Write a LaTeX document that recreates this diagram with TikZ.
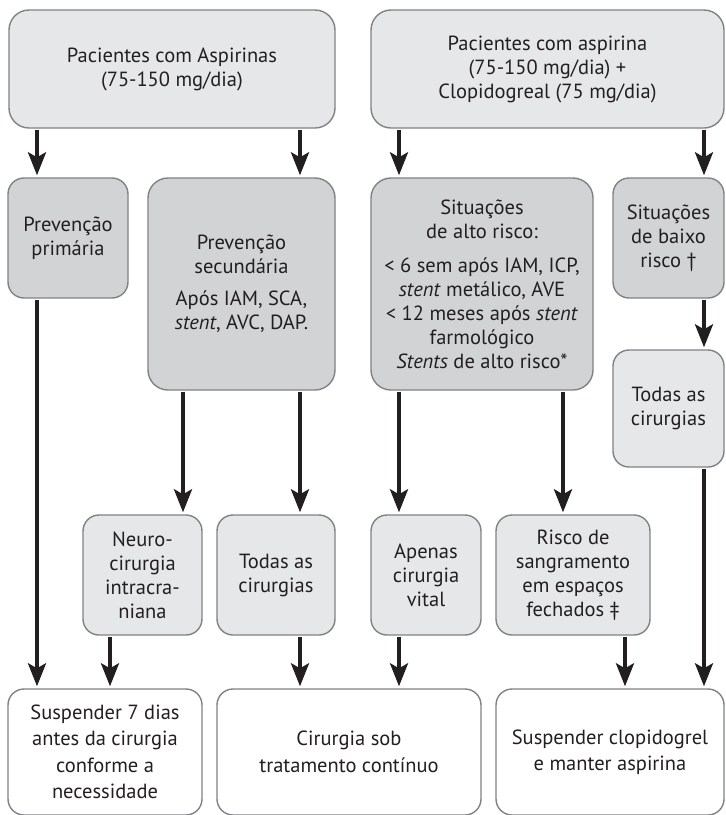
\documentclass[tikz,border=0pt]{standalone}
\usepackage{fontspec}
\setmainfont{PT Sans}
\usetikzlibrary{arrows.meta}
\definecolor{bordergray}{HTML}{808285}
\definecolor{lightg}{HTML}{E6E7E8}
\definecolor{darkg}{HTML}{D1D3D4}
\definecolor{arrowcol}{HTML}{231F20}
\definecolor{textcol}{HTML}{231F20}
\begin{document}
\begin{tikzpicture}[x=1pt,y=-1pt,
  box/.style={draw=bordergray, line width=1.4pt, rounded corners=16pt, align=center, inner sep=0pt,
    font=\fontsize{20.5}{24}\selectfont, text=textcol},
  lite/.style={box, fill=lightg},
  dark/.style={box, fill=darkg},
  plain/.style={box, fill=white, font=\fontsize{20.5}{26.5}\selectfont},
  arr/.style={line width=3.8pt, draw=arrowcol, shorten >=2pt, shorten <=1pt,
    -{Stealth[length=23pt,width=18pt,inset=5pt]}},
]
\useasboundingbox (0,0) rectangle (726,815);
\fill[white] (0,0) rectangle (726,815);

\node[lite, rounded corners=20pt, minimum width=326pt, minimum height=118pt] (top1) at (172,69)
  {Pacientes com Aspirinas\\(75-150 mg/dia)};
\node[lite, rounded corners=20pt, minimum width=353pt, minimum height=118pt] (top2) at (547.5,69)
  {Pacientes com aspirina\\(75-150 mg/dia) +\\Clopidogreal (75 mg/dia)};

\node[dark, minimum width=120pt, minimum height=120pt] (prim) at (68,238)
  {Prevenção\\primária};
\node[dark, rounded corners=20pt, minimum width=187pt, minimum height=212pt] (sec) at (241.5,284)
  {Prevenção\\secundária\\[8pt]Após IAM, SCA,\\\textit{stent}, AVC, DAP.};
\node[dark, rounded corners=20pt, minimum width=222pt, minimum height=212pt] (alto) at (482,284)
  {Situações\\de alto risco:\\[10pt]< 6 sem após IAM, ICP,\\\textit{stent} metálico, AVE\\< 12 meses após \textit{stent}\\farmológico\\\textit{Stents} de alto risco*};
\node[dark, minimum width=111pt, minimum height=120pt] (baixo) at (668.5,238)
  {Situações\\de baixo\\risco †};
\node[lite, minimum width=111pt, minimum height=117pt] (todasR) at (668.5,408.5)
  {Todas as\\cirurgias};

\node[lite, minimum width=119pt, minimum height=120pt] (neuro) at (142.5,575)
  {Neuro-\\cirurgia\\intracra-\\niana};
\node[lite, minimum width=118pt, minimum height=120pt] (todasM) at (276,575)
  {Todas as\\cirurgias};
\node[lite, minimum width=110pt, minimum height=120pt] (vital) at (426,575)
  {Apenas\\cirurgia\\vital};
\node[lite, minimum width=154pt, minimum height=120pt] (risco) at (573,575)
  {Risco de\\sangramento\\em espaços\\fechados ‡};

\node[plain, minimum width=194pt, minimum height=126pt] (susp) at (105,752)
  {Suspender 7 dias\\antes da cirurgia\\conforme a\\necessidade};
\node[plain, minimum width=264pt, minimum height=126pt] (cont) at (349,752)
  {Cirurgia sob\\tratamento contínuo};
\node[plain, minimum width=228pt, minimum height=126pt] (clop) at (610,752)
  {Suspender clopidogrel\\e manter aspirina};

\coordinate (xa) at (37,0);
\coordinate (xb) at (300,0);
\coordinate (xc) at (399,0);
\coordinate (xd) at (704,0);
\coordinate (xe) at (183,0);
\coordinate (xf) at (563,0);
\coordinate (xg) at (110,0);
\coordinate (xh) at (625,0);

\draw[arr] (top1.south -| xa) -- (prim.north -| xa);
\draw[arr] (top1.south -| xb) -- (sec.north -| xb);
\draw[arr] (top2.south -| xc) -- (alto.north -| xc);
\draw[arr] (top2.south -| xd) -- (baixo.north -| xd);
\draw[arr] (baixo.south -| xd) -- (todasR.north -| xd);
\draw[arr] (sec.south -| xe) -- (neuro.north -| xe);
\draw[arr] (sec.south -| xb) -- (todasM.north -| xb);
\draw[arr] (alto.south -| xc) -- (vital.north -| xc);
\draw[arr] (alto.south -| xf) -- (risco.north -| xf);
\draw[arr] (prim.south -| xa) -- (susp.north -| xa);
\draw[arr] (neuro.south -| xg) -- (susp.north -| xg);
\draw[arr] (todasM.south -| xb) -- (cont.north -| xb);
\draw[arr] (vital.south -| xc) -- (cont.north -| xc);
\draw[arr] (risco.south -| xh) -- (clop.north -| xh);
\draw[arr] (todasR.south -| xd) -- (clop.north -| xd);
\end{tikzpicture}
\end{document}
